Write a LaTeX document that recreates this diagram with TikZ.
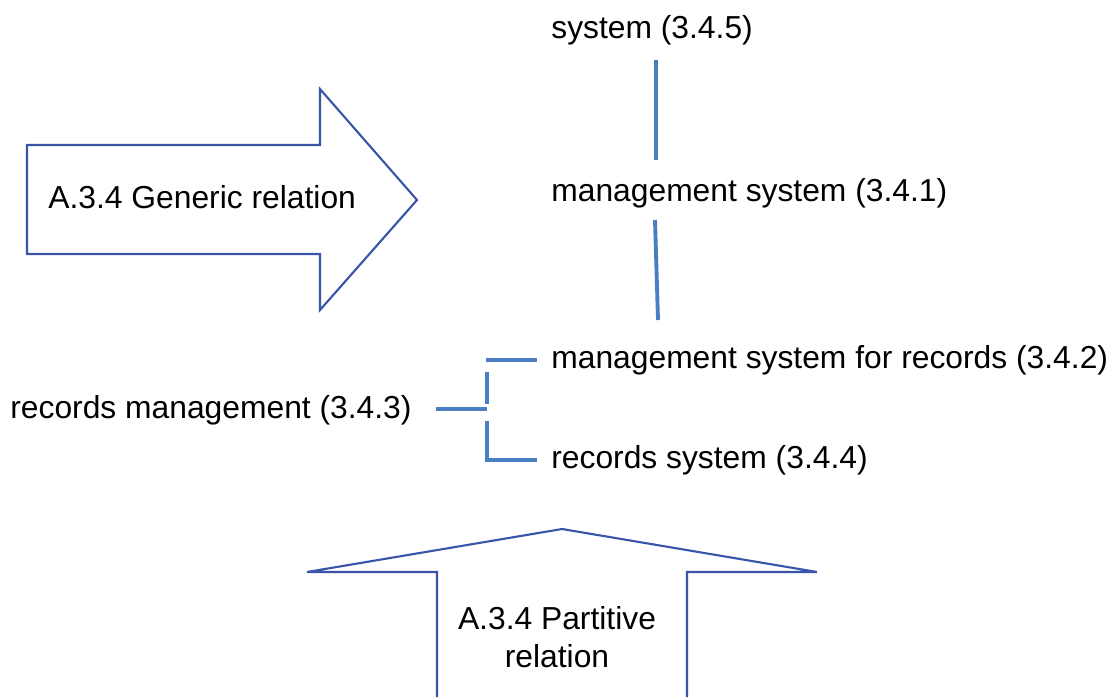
\documentclass[tikz,border=0pt]{standalone}
\usepackage{fontspec}
\setmainfont{Liberation Sans}
\definecolor{arrowblue}{HTML}{3A55A8}
\definecolor{linkblue}{HTML}{4A7EC3}
\begin{document}
\begin{tikzpicture}[x=0.02cm,y=-0.02cm,
  lbl/.style={anchor=base west,inner sep=0pt,font=\fontsize{18.1}{21.6}\selectfont},
  bigarrow/.style={draw=arrowblue,line width=1.2pt,line join=miter},
  link/.style={draw=linkblue,line width=2.2pt}]
\useasboundingbox[fill=white] (0,0) rectangle (1115,697);
% big arrows
\draw[bigarrow] (27,145) -- (320,145) -- (320,89) -- (417,200) -- (320,310) -- (320,254) -- (27,254) -- cycle;
\draw[bigarrow] (437,697) -- (437,572) -- (307,572) -- (562,529) -- (817,572) -- (687,572) -- (687,697);
\node[lbl] (gen) at (48,208) {A.3.4 Generic relation};
\node[align=center,inner sep=0pt,font=\fontsize{18.1}{21.6}\selectfont,anchor=center] (part) at (557,637) {A.3.4 Partitive\\relation};
% terms
\node[lbl] (sys) at (551,38) {system (3.4.5)};
\node[lbl] (ms) at (551,201) {management system (3.4.1)};
\node[lbl] (msr) at (551,368) {management system for records (3.4.2)};
\node[lbl] (rm) at (10,418) {records management (3.4.3)};
\node[lbl] (rs) at (551,468) {records system (3.4.4)};
% connectors
\coordinate (a1) at (656,60); \coordinate (a2) at (656,160);
\coordinate (b1) at (655,220); \coordinate (b2) at (658,320);
\draw[link] (a1) -- (a2);
\draw[link] (b1) -- (b2);
\coordinate (t1) at (486,360); \coordinate (t2) at (537,360);
\coordinate (v1) at (487,372); \coordinate (v2) at (487,404);
\coordinate (v3) at (487,421); \coordinate (v4) at (487,460);
\coordinate (u2) at (537,460);
\coordinate (s1) at (436,409); \coordinate (s2) at (487,409);
\draw[link] (t1) -- (t2);
\draw[link] (v1) -- (v2);
\draw[link] (v3) -- (v4) -- (u2);
\draw[link] (s1) -- (s2);
\end{tikzpicture}
\end{document}
